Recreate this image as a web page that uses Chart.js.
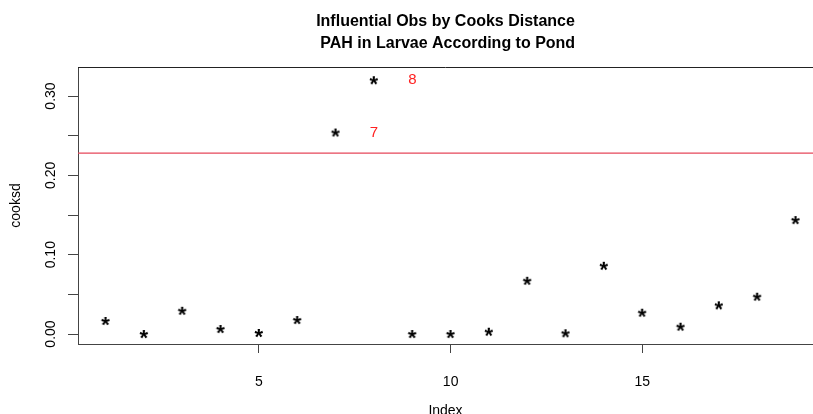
<!DOCTYPE html>
<html>
<head>
<meta charset="utf-8">
<script src="https://cdn.jsdelivr.net/npm/chart.js@4.4.0/dist/chart.umd.min.js"></script>
<style>
  html, body { margin: 0; padding: 0; background: #fff; overflow: hidden; }
  canvas { display: block; }
</style>
</head>
<body>
<canvas id="cookChart" width="813" height="414"></canvas>
<script>
const obsIndex = [1, 2, 3, 4, 5, 6, 7, 8, 9, 10, 11, 12, 13, 14, 15, 16, 17, 18, 19];
const cooksd = [0.0164, 0.0000, 0.0293, 0.0063, 0.0013, 0.0176, 0.2540, 0.3199, 0.0000, 0.0000,
                0.0029, 0.0671, 0.0009, 0.0860, 0.0268, 0.0092, 0.0361, 0.0470, 0.1436];
const cutoff = 0.228;

const xTickValues = [5, 10, 15];
const yTickValues = [0, 0.05, 0.10, 0.15, 0.20, 0.25, 0.30];
const yTickLabels = ["0.00", "", "0.10", "", "0.20", "", "0.30"];
const titleLines = ["Influential Obs by Cooks Distance", " PAH in Larvae According to Pond"];

const FONT = "'Liberation Sans', Arial, sans-serif";

// R-style "*" point symbol
function makeStar() {
  const c = document.createElement("canvas");
  c.width = 22;
  c.height = 22;
  const g = c.getContext("2d");
  g.font = "bold 22px " + FONT;
  const m = g.measureText("*");
  const w = m.actualBoundingBoxLeft + m.actualBoundingBoxRight;
  const h = m.actualBoundingBoxAscent + m.actualBoundingBoxDescent;
  g.fillStyle = "#000";
  g.fillText("*", 11 - w / 2 + m.actualBoundingBoxLeft, 11 + h / 2 - m.actualBoundingBoxDescent);
  return c;
}

const rDecor = {
  id: "rDecor",
  afterDraw(chart) {
    const { ctx, chartArea: a, scales: { x, y } } = chart;
    ctx.save();
    // top edge of the box
    ctx.strokeStyle = "#222";
    ctx.lineWidth = 1;
    ctx.beginPath();
    ctx.moveTo(a.left, Math.round(a.top) + 0.5);
    ctx.lineTo(a.right, Math.round(a.top) + 0.5);
    ctx.stroke();

    // cutoff line
    const yc = y.getPixelForValue(cutoff);
    ctx.strokeStyle = "#E6475A";
    ctx.lineWidth = 1.3;
    ctx.beginPath();
    ctx.moveTo(a.left, yc);
    ctx.lineTo(a.right, yc);
    ctx.stroke();

    // rotated y tick labels, like R's las=0
    ctx.font = "14px " + FONT;
    ctx.fillStyle = "#000";
    ctx.textAlign = "center";
    ctx.textBaseline = "middle";
    const lx = y.right - 27;
    yTickValues.forEach((v, i) => {
      if (!yTickLabels[i]) return;
      ctx.save();
      ctx.translate(lx, y.getPixelForValue(v));
      ctx.rotate(-Math.PI / 2);
      ctx.fillText(yTickLabels[i], 0, 0);
      ctx.restore();
    });

    // labels for influential points
    ctx.font = "15px " + FONT;
    ctx.fillStyle = "#FF2020";
    cooksd.forEach((v, i) => {
      if (v > cutoff) {
        ctx.fillText(String(obsIndex[i]), x.getPixelForValue(obsIndex[i] + 1), y.getPixelForValue(v));
      }
    });
    ctx.restore();
  }
};

const ctx = document.getElementById("cookChart").getContext("2d");
new Chart(ctx, {
  type: "scatter",
  data: {
    datasets: [
      {
        data: obsIndex.map((v, i) => ({ x: v, y: cooksd[i] })),
        pointStyle: makeStar(),
        pointRadius: 6,
        pointHoverRadius: 6,
      },
    ],
  },
  options: {
    responsive: false,
    animation: false,
    devicePixelRatio: 1,
    layout: { padding: 0, autoPadding: false },
    plugins: {
      legend: { display: false },
      tooltip: { enabled: false },
      title: {
        display: true,
        text: titleLines,
        fullSize: false,
        color: "#000",
        font: { family: FONT, size: 16, weight: "bold", lineHeight: 1.375 },
        padding: { top: 11, bottom: 12 },
      },
    },
    scales: {
      x: {
        type: "linear",
        min: 0.278,
        max: 19.453,
        afterBuildTicks: (s) => { s.ticks = xTickValues.map((v) => ({ value: v })); },
        afterFit: (s) => { s.height = 70; },
        ticks: {
          autoSkip: false,
          maxRotation: 0,
          color: "#000",
          font: { family: FONT, size: 14 },
          padding: 21,
          callback: (v) => String(v),
        },
        grid: { drawOnChartArea: false, drawTicks: true, tickLength: 9, color: "#444" },
        border: { display: true, color: "#444", width: 1 },
        title: {
          display: true,
          text: "Index",
          color: "#000",
          font: { family: FONT, size: 14 },
          padding: { top: 0, bottom: -6 },
        },
      },
      y: {
        type: "linear",
        min: -0.0126,
        max: 0.3366,
        afterBuildTicks: (s) => { s.ticks = yTickValues.map((v) => ({ value: v })); },
        afterFit: (s) => { s.width = 78; },
        ticks: { display: false },
        grid: { drawOnChartArea: false, drawTicks: true, tickLength: 10, color: "#444" },
        border: { display: true, color: "#444", width: 1 },
        title: {
          display: true,
          text: "cooksd",
          color: "#000",
          font: { family: FONT, size: 14 },
          padding: { top: 8, bottom: 0 },
        },
      },
    },
  },
  plugins: [rDecor],
});
</script>
</body>
</html>
